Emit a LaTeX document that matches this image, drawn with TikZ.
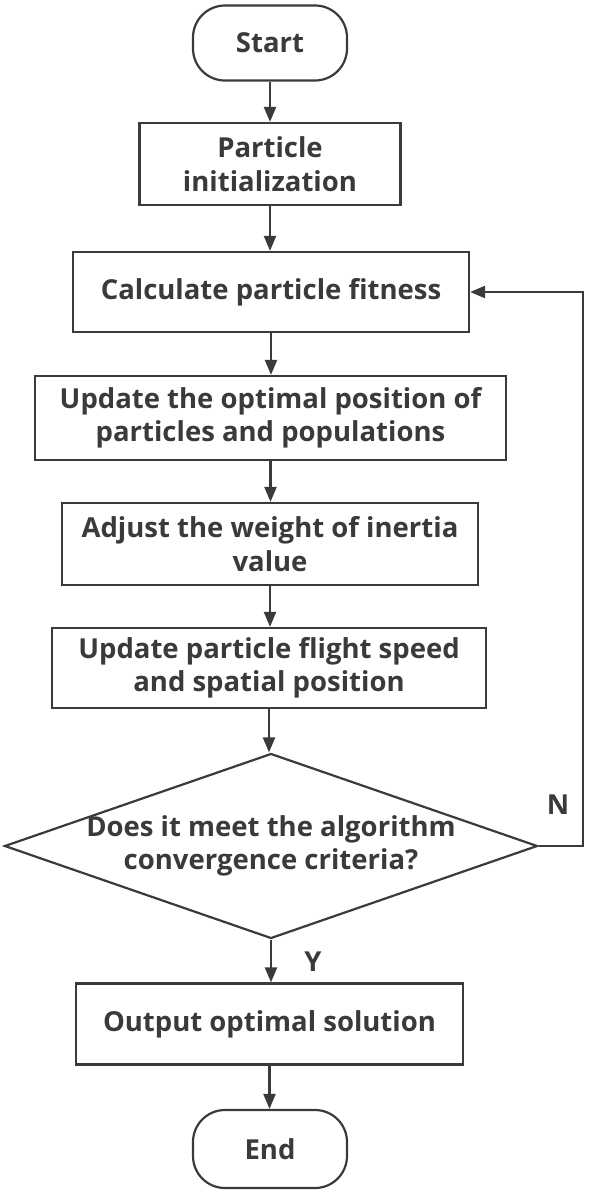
\documentclass[tikz,border=0pt]{standalone}
\usepackage{fontspec}
\setmainfont{Open Sans}
\usetikzlibrary{shapes.geometric, arrows.meta, positioning}
\definecolor{ink}{HTML}{3A3A3A}
\tikzset{
	block/.style={draw=ink, line width=2.2pt},
	term/.style={block, rounded corners=32pt},
	decide/.style={block, diamond, inner sep=0pt},
	txt/.style={text=ink, font=\bfseries\fontsize{27.5}{33.5}\selectfont, align=center},
	flow/.style={draw=ink, line width=2.2pt, -{Triangle[length=15pt, width=12pt]}}
}
\begin{document}
\begin{tikzpicture}[x=1pt, y=-1pt]
	\useasboundingbox (0,0) rectangle (589,1192);
	
	\node[term, minimum width=154pt, minimum height=75pt] (start) at (270,43) {};
	\node[txt] at (start) {Start};
	
	\node[block, minimum width=261pt, minimum height=82pt] (init) at (270,164) {};
	\node[txt] at (init) {Particle\\initialization};
	
	\node[block, minimum width=396pt, minimum height=80pt] (fit) at (271,292) {};
	\node[txt] at (fit) {Calculate particle fitness};
	
	\node[block, minimum width=471pt, minimum height=84pt] (best) at (270.5,418) {};
	\node[txt] at (best) {Update the optimal position of\\particles and populations};
	
	\node[block, minimum width=416pt, minimum height=82pt] (weight) at (270,544) {};
	\node[txt] at (weight) {Adjust the weight of inertia\\value};
	
	\node[block, minimum width=434pt, minimum height=80pt] (speed) at (269,668) {};
	\node[txt] at (speed) {Update particle flight speed\\and spatial position};
	
	\node[decide, minimum width=533pt, minimum height=185pt] (check) at (271,846) {};
	\node[txt] at (check) {Does it meet the algorithm\\convergence criteria?};
	
	\node[block, minimum width=387pt, minimum height=81pt] (output) at (269.5,1024) {};
	\node[txt] at (output) {Output optimal solution};
	
	\node[term, minimum width=154pt, minimum height=78pt] (end) at (270,1149) {};
	\node[txt] at (end) {End};
	
	\coordinate (loop) at (583,846);
	\node[txt] (no) at (558,805) {N};
	\node[txt] (yes) at (313,962) {Y};
	
	\draw[flow] (start.south) -- (init.north);
	\draw[flow] (init.south) -- (init.south |- fit.north);
	\draw[flow] (fit.south) -- (fit.south |- best.north);
	\draw[flow] (best.south) -- (best.south |- weight.north);
	\draw[flow] (weight.south) -- (weight.south |- speed.north);
	\draw[flow] (speed.south) -- (speed.south |- check.north);
	\draw[flow] (check.south) -- (check.south |- output.north);
	\draw[flow] (output.south) -- (output.south |- end.north);
	\draw[flow] (check.east) -- (loop) |- (fit.east);
\end{tikzpicture}
\end{document}
